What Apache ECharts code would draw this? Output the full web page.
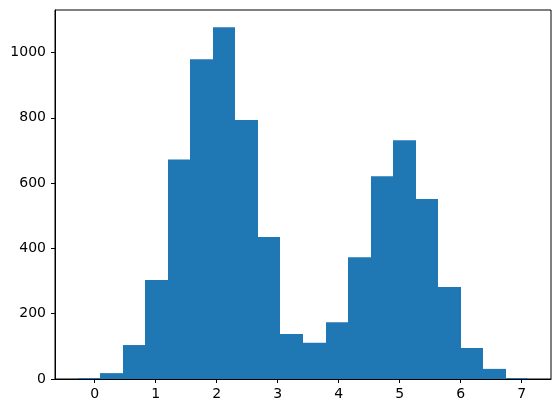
<!DOCTYPE html>
<html>
<head>
<meta charset="utf-8">
<script src="https://cdn.jsdelivr.net/npm/echarts@6/dist/echarts.min.js"></script>
<style>
    html, body { margin: 0; padding: 0; background: #fff; }
    #chart { width: 560px; height: 413px; }
</style>
</head>
<body>
<div id="chart"></div>
<script>
    // histogram bins: 20 bins between the two edges
    var binStart = -0.28;
    var binEnd = 7.11;
    var counts = [3, 18, 104, 303, 672, 979, 1077, 793, 435, 138, 111, 174, 373, 621, 731, 551, 282, 95, 31, 3];
    var xTicks = [0, 1, 2, 3, 4, 5, 6, 7];
    var yTicks = [0, 200, 400, 600, 800, 1000];

    var binW = (binEnd - binStart) / counts.length;
    var bins = counts.map(function (c, i) {
        return [binStart + i * binW, binStart + (i + 1) * binW, c];
    });

    var myChart = echarts.init(document.getElementById('chart'));
    var option = {
        animation: false,
        grid: {
            left: 55,
            right: 9,
            top: 10,
            bottom: 34,
            show: true,
            borderColor: '#000',
            borderWidth: 1
        },
        xAxis: {
            type: 'value',
            min: -0.65,
            max: 7.48,
            splitLine: { show: false },
            axisLine: { show: true, onZero: false, lineStyle: { color: '#000', width: 1 } },
            axisTick: { show: true, inside: false, length: 4, lineStyle: { color: '#000' }, customValues: xTicks },
            axisLabel: {
                color: '#000',
                fontFamily: 'DejaVu Sans',
                fontSize: 14,
                margin: 8,
                customValues: xTicks
            }
        },
        yAxis: {
            type: 'value',
            min: 0,
            max: 1130,
            splitLine: { show: false },
            axisLine: { show: true, onZero: false, lineStyle: { color: '#000', width: 1 } },
            axisTick: { show: true, inside: false, length: 4, lineStyle: { color: '#000' }, customValues: yTicks },
            axisLabel: {
                color: '#000',
                fontFamily: 'DejaVu Sans',
                fontSize: 14,
                margin: 9,
                customValues: yTicks,
                formatter: function (v) { return String(v); }
            }
        },
        series: [{
            type: 'custom',
            renderItem: function (params, api) {
                var p0 = api.coord([api.value(0), api.value(2)]);
                var p1 = api.coord([api.value(1), 0]);
                // snap bin edges to whole pixels so neighbouring bars touch
                var x0 = Math.round(p0[0]);
                var x1 = Math.round(p1[0]);
                return {
                    type: 'rect',
                    shape: { x: x0, y: p0[1], width: x1 - x0, height: p1[1] - p0[1] },
                    style: { fill: '#1f77b4' }
                };
            },
            encode: { x: [0, 1], y: 2 },
            data: bins
        }]
    };
    myChart.setOption(option);
</script>
</body>
</html>
